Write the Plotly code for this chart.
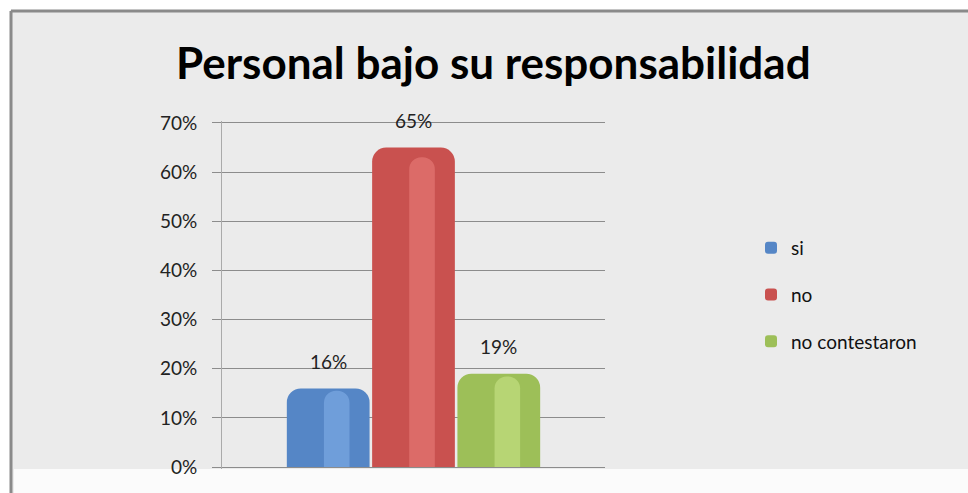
import plotly.graph_objects as go

categories = ["si", "no", "no contestaron"]
values = [0.16, 0.65, 0.19]
labels = ["16%", "65%", "19%"]
colors = ["#5586c6", "#c9514f", "#9dbf58"]
highlights = ["#8ab6ee", "#f08582", "#d2ec90"]
tick_vals = [0, 0.1, 0.2, 0.3, 0.4, 0.5, 0.6, 0.7]
tick_text = ["0%", "10%", "20%", "30%", "40%", "50%", "60%", "70%"]

W, H = 968, 493
L, R, T, B = 222, 605, 121, 469
PAD = 0.004


def px(x):
    return (x - L) / (R - L)


def py(y):
    return (B - y) / (B - T)


fig = go.Figure()
for i, (c, v) in enumerate(zip(categories, values)):
    fig.add_trace(go.Bar(
        x=[i], y=[v], name=c, width=0.97,
        marker=dict(color=colors[i], line=dict(width=0)),
        legendgroup=c, hoverinfo="skip",
    ))
for i, (c, v) in enumerate(zip(categories, values)):
    fig.add_trace(go.Bar(
        x=[i + 0.1], y=[v * 0.97], width=0.3, showlegend=False,
        marker=dict(color=highlights[i], opacity=0.5, line=dict(width=0)),
        hoverinfo="skip",
    ))

annotations = []
for i, (v, t) in enumerate(zip(values, labels)):
    annotations.append(dict(
        x=i, y=v, text=t, showarrow=False, yshift=27,
        font=dict(family="Lato", size=19, color="#222222"),
    ))
annotations.append(dict(
    x=px(493), y=py(62), xref="paper", yref="paper", text="<b>Personal bajo su responsabilidad</b>",
    showarrow=False, font=dict(family="Lato", size=44, color="#000000"),
    xanchor="center", yanchor="middle",
))

shapes = [
    dict(type="rect", xref="paper", yref="paper", x0=px(10), x1=px(975), y0=py(500), y1=py(10),
         fillcolor="#ebebeb", line=dict(width=0), layer="below"),
    dict(type="rect", xref="paper", yref="paper", x0=px(14), x1=px(975), y0=py(500), y1=py(469),
         fillcolor="#fbfbfb", line=dict(width=0), layer="below"),
    dict(type="line", xref="paper", yref="paper", x0=px(11), x1=px(975), y0=py(11), y1=py(11),
         line=dict(color="#8a8a8a", width=3), layer="below"),
    dict(type="line", xref="paper", yref="paper", x0=px(11), x1=px(11), y0=py(11), y1=py(500),
         line=dict(color="#8a8a8a", width=3), layer="below"),
]

fig.update_layout(
    width=W, height=H,
    margin=dict(l=L, r=W - R, t=T, b=H - B, pad=0),
    paper_bgcolor="white", plot_bgcolor="rgba(0,0,0,0)",
    barmode="overlay",
    showlegend=True,
    legend=dict(x=px(751), y=py(229), xanchor="left", yanchor="top",
                font=dict(family="Lato", size=19, color="#111111"),
                tracegroupgap=19, itemwidth=30, bgcolor="rgba(0,0,0,0)"),
    xaxis=dict(range=[-1.245, 3.245], showticklabels=False, showgrid=False,
               zeroline=False, showline=False, ticks=""),
    yaxis=dict(range=[-PAD, 0.7 + PAD], tickvals=tick_vals, ticktext=tick_text,
               showgrid=True, gridcolor="#8c8c8c", gridwidth=1,
               showline=True, linecolor="#aaaaaa", linewidth=1,
               ticks="outside", ticklen=9, tickcolor="#8c8c8c",
               ticklabelstandoff=11, zeroline=False,
               tickfont=dict(family="Lato", size=19, color="#222222")),
    annotations=annotations, shapes=shapes,
    barcornerradius=14,
)
fig.write_html("out.html")
